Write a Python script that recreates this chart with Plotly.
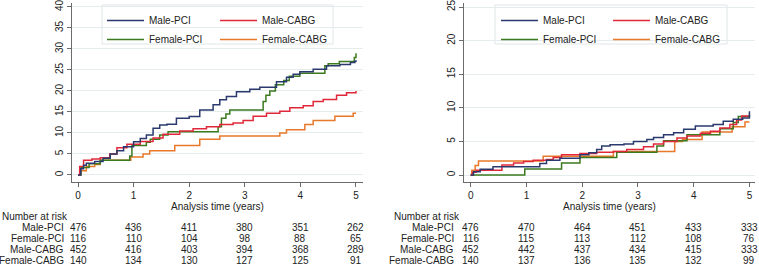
import plotly.graph_objects as go

# ---------------- data ----------------
# Left panel: cumulative incidence (%) vs years
L_mpci_t = [0, 0.05, 0.1, 0.15, 0.3, 0.45, 0.58, 0.7, 0.82, 1.0, 1.12, 1.23, 1.35, 1.47, 1.6, 1.77, 2.0, 2.19, 2.43, 2.55, 2.67, 2.85, 3.09, 3.27, 3.57, 3.75, 3.87, 3.99, 4.23, 4.47, 4.71, 4.9, 4.98, 5.0]
L_mpci_v = [0, 1.5, 2.3, 2.8, 3.2, 4.0, 5.0, 5.8, 6.7, 7.9, 8.7, 9.5, 11.1, 11.9, 12.1, 13.5, 13.9, 15.5, 16.7, 17.9, 18.7, 19.8, 20.4, 20.9, 22.2, 23.3, 24.0, 24.6, 25.2, 26.0, 26.3, 26.8, 27.1, 27.3]

L_mcabg_t = [0, 0.03, 0.1, 0.25, 0.4, 0.57, 0.7, 0.88, 1.12, 1.35, 1.53, 1.83, 2.07, 2.31, 2.55, 2.79, 2.97, 3.15, 3.39, 3.63, 3.81, 4.05, 4.23, 4.41, 4.65, 4.83, 5.0]
L_mcabg_v = [0, 2.0, 3.5, 3.8, 4.1, 5.0, 6.5, 7.3, 8.0, 8.8, 9.7, 10.5, 11.0, 11.5, 12.0, 12.4, 13.0, 14.0, 14.7, 15.2, 16.0, 16.5, 17.5, 18.0, 19.0, 19.6, 20.0]

L_fpci_t = [0, 0.05, 0.2, 0.4, 0.93, 0.97, 1.23, 1.3, 1.47, 1.62, 2.52, 2.58, 2.66, 2.73, 3.33, 3.38, 3.45, 3.55, 3.7, 3.8, 3.99, 4.44, 4.5, 4.7, 4.97, 5.0]
L_fpci_v = [0, 1.8, 2.7, 3.5, 4.5, 7.0, 7.8, 8.5, 9.5, 10.3, 11.5, 13.5, 14.5, 15.5, 17.5, 19.0, 20.0, 21.5, 22.5, 23.5, 24.2, 26.0, 26.5, 27.0, 28.0, 29.0]

L_fcabg_t = [0, 0.05, 0.15, 0.3, 0.4, 0.95, 1.17, 1.29, 1.74, 2.19, 2.55, 3.63, 3.75, 4.08, 4.23, 4.62, 4.95, 5.0]
L_fcabg_v = [0, 1.0, 2.0, 2.5, 3.5, 4.3, 5.0, 5.8, 7.0, 8.5, 9.3, 10.0, 10.8, 12.0, 13.0, 14.0, 14.7, 14.7]

# Right panel
R_mpci_t = [0, 0.05, 0.17, 0.4, 1.24, 1.36, 1.6, 1.96, 2.12, 2.26, 2.35, 2.5, 2.75, 2.92, 3.16, 3.28, 3.46, 3.64, 3.82, 4.03, 4.35, 4.53, 4.71, 4.88, 5.0]
R_mpci_v = [0, 0.5, 0.84, 1.24, 1.7, 2.2, 2.5, 3.0, 3.3, 3.8, 4.3, 4.5, 4.6, 5.0, 5.3, 5.6, 6.0, 6.3, 6.8, 7.3, 7.5, 8.0, 8.3, 8.5, 9.5]

R_mcabg_t = [0, 0.03, 0.1, 0.56, 0.77, 0.95, 1.12, 1.36, 1.48, 1.63, 1.96, 2.26, 2.56, 2.8, 3.1, 3.28, 3.46, 3.7, 3.88, 4.12, 4.3, 4.47, 4.65, 4.77, 4.86, 5.0]
R_mcabg_v = [0, 0.4, 0.7, 1.5, 1.8, 2.0, 2.2, 2.3, 2.6, 3.0, 3.2, 3.4, 3.5, 3.8, 4.2, 4.6, 5.0, 5.5, 5.8, 6.2, 6.5, 7.0, 7.5, 8.2, 8.8, 8.8]

R_fpci_t = [0, 0.97, 1.63, 1.96, 2.62, 3.34, 3.46, 3.88, 4.47, 4.71, 4.8, 5.0]
R_fpci_v = [0, 0.9, 1.8, 2.6, 3.4, 4.3, 5.1, 6.0, 6.9, 7.8, 8.7, 9.0]

R_fcabg_t = [0, 0.02, 0.08, 0.14, 1.3, 2.56, 3.66, 3.8, 4.15, 4.69, 4.92, 5.0]
R_fcabg_v = [0, 0.7, 1.4, 2.1, 2.8, 3.5, 5.0, 5.3, 6.4, 7.2, 7.9, 7.9]

series_names = ["Male-PCI", "Male-CABG", "Female-PCI", "Female-CABG"]
series_colors = ["#2b3a6e", "#e0283a", "#3b7a1f", "#e8792b"]

risk_times = [0, 1, 2, 3, 4, 5]
risk_labels = ["Male-PCI", "Female-PCI", "Male-CABG", "Female-CABG"]
L_risk = [
    [476, 436, 411, 380, 351, 262],
    [116, 110, 104, 98, 88, 65],
    [452, 416, 403, 394, 368, 289],
    [140, 134, 130, 127, 125, 91],
]
R_risk = [
    [476, 470, 464, 451, 433, 333],
    [116, 115, 113, 112, 108, 76],
    [452, 442, 437, 434, 415, 333],
    [140, 137, 136, 135, 132, 99],
]
L_yticks = [0, 5, 10, 15, 20, 25, 30, 35, 40]
R_yticks = [0, 5, 10, 15, 20, 25]
x_ticks = [0, 1, 2, 3, 4, 5]

# ---------------- figure ----------------
W, H = 759, 266
FONT = "Liberation Sans, Arial, sans-serif"
AXC = "#6b6b6b"
GRID = "#e4ecee"
TXT = "#222"

fig = go.Figure()

left = [(L_mpci_t, L_mpci_v), (L_mcabg_t, L_mcabg_v), (L_fpci_t, L_fpci_v), (L_fcabg_t, L_fcabg_v)]
right = [(R_mpci_t, R_mpci_v), (R_mcabg_t, R_mcabg_v), (R_fpci_t, R_fpci_v), (R_fcabg_t, R_fcabg_v)]

# legend columns: Male-PCI/Female-PCI in first column, Male-CABG/Female-CABG in second
L_leg = {0: "legend", 2: "legend", 1: "legend3", 3: "legend3"}
R_leg = {0: "legend2", 2: "legend2", 1: "legend4", 3: "legend4"}
rank = {0: 1, 2: 2, 1: 1, 3: 2}

draw_order = [3, 2, 1, 0]
for idx in draw_order:
    t, v = left[idx]
    fig.add_trace(go.Scatter(x=t, y=v, mode="lines", line=dict(color=series_colors[idx], width=1.5, shape="hv"),
                             name=series_names[idx], xaxis="x", yaxis="y", legend=L_leg[idx],
                             legendrank=rank[idx]))
for idx in draw_order:
    t, v = right[idx]
    fig.add_trace(go.Scatter(x=t, y=v, mode="lines", line=dict(color=series_colors[idx], width=1.5, shape="hv"),
                             name=series_names[idx], xaxis="x2", yaxis="y2", legend=R_leg[idx],
                             legendrank=rank[idx]))

ydom = [(H - 182) / H, (H - 3) / H]

def xax(dom, rng, anchor):
    return dict(domain=dom, range=rng, tickvals=x_ticks, showgrid=False, zeroline=False, anchor=anchor,
                showline=True, linecolor=AXC, linewidth=1, ticks="outside", ticklen=4, tickcolor=AXC,
                tickfont=dict(size=10, color=TXT), automargin=False, ticklabeloverflow="allow",
                title=dict(text="Analysis time (years)", font=dict(size=10, color=TXT), standoff=2))

def yax(rng, tv, anchor):
    return dict(domain=ydom, range=rng, tickvals=tv, tickangle=-90, showgrid=True, gridcolor=GRID,
                gridwidth=1, zeroline=False, showline=True, linecolor=AXC, linewidth=1,
                ticks="outside", ticklen=4, tickcolor=AXC, tickfont=dict(size=10, color=TXT),
                anchor=anchor, automargin=False, ticklabeloverflow="allow")

def leg(xpx):
    return dict(orientation="v", x=xpx / W, y=1 - 6 / H, xanchor="left", yanchor="top",
                bgcolor="rgba(0,0,0,0)", borderwidth=0, font=dict(size=10, color=TXT),
                itemwidth=37, traceorder="normal")

fig.update_layout(
    width=W, height=H, margin=dict(l=0, r=0, t=0, b=0, autoexpand=False),
    paper_bgcolor="white", plot_bgcolor="white",
    font=dict(family=FONT, size=10, color=TXT),
    xaxis=xax([72 / W, 363 / W], [-0.108, 5.126], "y"),
    yaxis=yax([-1.67, 40.95], L_yticks, "x"),
    xaxis2=xax([464 / W, 755 / W], [-0.12, 5.10], "y2"),
    yaxis2=yax([-1.04, 25.6], R_yticks, "x2"),
    legend=leg(102),
    legend3=leg(215),
    legend2=leg(496),
    legend4=leg(608),
    showlegend=True,
)

# legend frames
shapes = []
for (x0, x1) in [(102, 333), (495, 727)]:
    shapes.append(dict(type="rect", xref="paper", yref="paper", x0=x0 / W, x1=x1 / W,
                       y0=1 - 5 / H, y1=1 - 44 / H, line=dict(color="#e0e6e8", width=1),
                       fillcolor="white", layer="below"))
fig.update_layout(shapes=shapes)

# Number at risk tables
row_y = [227.5, 238.5, 249.5, 260]
ann = []
for (xref, lab_x, title_x, risk) in [("x", 66, 0, L_risk), ("x2", 456, 392, R_risk)]:
    ann.append(dict(text="Number at risk", xref="paper", yref="paper", x=title_x / W, y=1 - 216.5 / H,
                    xanchor="left", yanchor="middle", showarrow=False, font=dict(size=10, color=TXT)))
    for r, lab in enumerate(risk_labels):
        ann.append(dict(text=lab, xref="paper", yref="paper", x=lab_x / W, y=1 - row_y[r] / H,
                        xanchor="right", yanchor="middle", showarrow=False, font=dict(size=10, color=TXT)))
        for c, tt in enumerate(risk_times):
            ann.append(dict(text=str(risk[r][c]), xref=xref, yref="paper", x=tt, y=1 - row_y[r] / H,
                            xanchor="center", yanchor="middle", showarrow=False,
                            font=dict(size=10, color=TXT)))
fig.update_layout(annotations=ann)

fig.write_html(
    "out.html",
    config={"displayModeBar": False},
    post_script="document.body.style.margin='0';document.body.style.padding='0';"
                "document.documentElement.style.overflow='hidden';",
)
